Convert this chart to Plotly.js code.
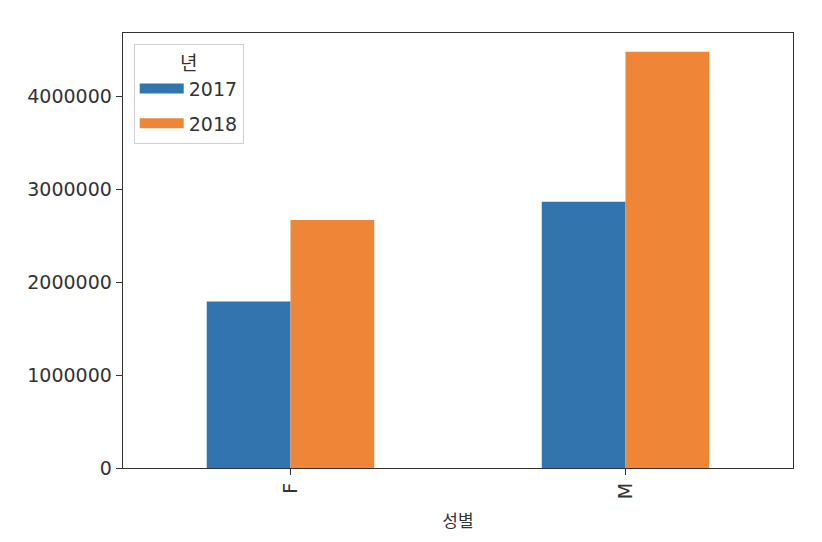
<!DOCTYPE html>
<html>
<head>
<meta charset="utf-8">
<script src="https://cdn.plot.ly/plotly-3.0.1.min.js"></script>
<style>html,body{margin:0;padding:0;background:#fff;}#chart{width:822px;height:542px;}</style>
</head>
<body>
<div id="chart"></div>
<script>
var categories = ['F', 'M'];
var seriesNames = ['2017', '2018'];
var values2017 = [1790000, 2865000];
var values2018 = [2668000, 4478000];
var yTickVals = [0, 1000000, 2000000, 3000000, 4000000];
var yTickText = ['0', '1000000', '2000000', '3000000', '4000000'];
var colors = ['#3274ae', '#ef8536'];

var numFont = "'DejaVu Sans', sans-serif";
var krFont = "'Noto Sans CJK KR', 'DejaVu Sans', sans-serif";
var textColor = '#333';
var traces = [
  {type: 'bar', name: seriesNames[0], x: categories, y: values2017, marker: {color: colors[0], line: {width: 0}}, showlegend: false},
  {type: 'bar', name: seriesNames[1], x: categories, y: values2018, marker: {color: colors[1], line: {width: 0}}, showlegend: false},
  {type: 'scatter', mode: 'lines', name: seriesNames[0], x: categories, y: [null, null], line: {color: colors[0], width: 14}, legendgroup: 'a', hoverinfo: 'skip'},
  {type: 'scatter', mode: 'lines', name: seriesNames[1], x: categories, y: [null, null], line: {color: colors[1], width: 14}, legendgroup: 'b', hoverinfo: 'skip'}
];
var layout = {
  width: 822, height: 542,
  margin: {l: 123, r: 29, t: 33, b: 74},
  paper_bgcolor: '#fff', plot_bgcolor: '#fff',
  font: {family: numFont, size: 19, color: textColor},
  barmode: 'group',
  bargap: 0.5, bargroupgap: 0,
  showlegend: true,
  xaxis: {
    type: 'category',
    showline: true, mirror: true, linecolor: '#333', linewidth: 1.3,
    ticks: 'outside', ticklen: 6, tickcolor: '#333', tickangle: -90,
    showgrid: false, zeroline: false,
    title: {text: '성별', font: {family: krFont, size: 17, color: textColor}, standoff: 16},
    tickfont: {family: numFont, size: 19, color: textColor}
  },
  yaxis: {
    range: [0, 4680000], tickvals: yTickVals, ticktext: yTickText,
    showline: true, mirror: true, linecolor: '#333', linewidth: 1.3,
    ticks: 'outside', ticklen: 6, tickcolor: '#333',
    showgrid: false, zeroline: false,
    tickfont: {family: numFont, size: 19, color: textColor}
  },
  legend: {
    x: 0.016, y: 0.975, xanchor: 'left', yanchor: 'top',
    bgcolor: '#fff', bordercolor: '#d0d0d0', borderwidth: 1,
    font: {family: numFont, size: 19, color: textColor},
    title: {text: '년', side: 'top center', font: {family: krFont, size: 19, color: textColor}},
    itemwidth: 44,
    tracegroupgap: 7
  }
};
Plotly.newPlot('chart', traces, layout, {displayModeBar: false, staticPlot: true});
</script>
</body>
</html>
